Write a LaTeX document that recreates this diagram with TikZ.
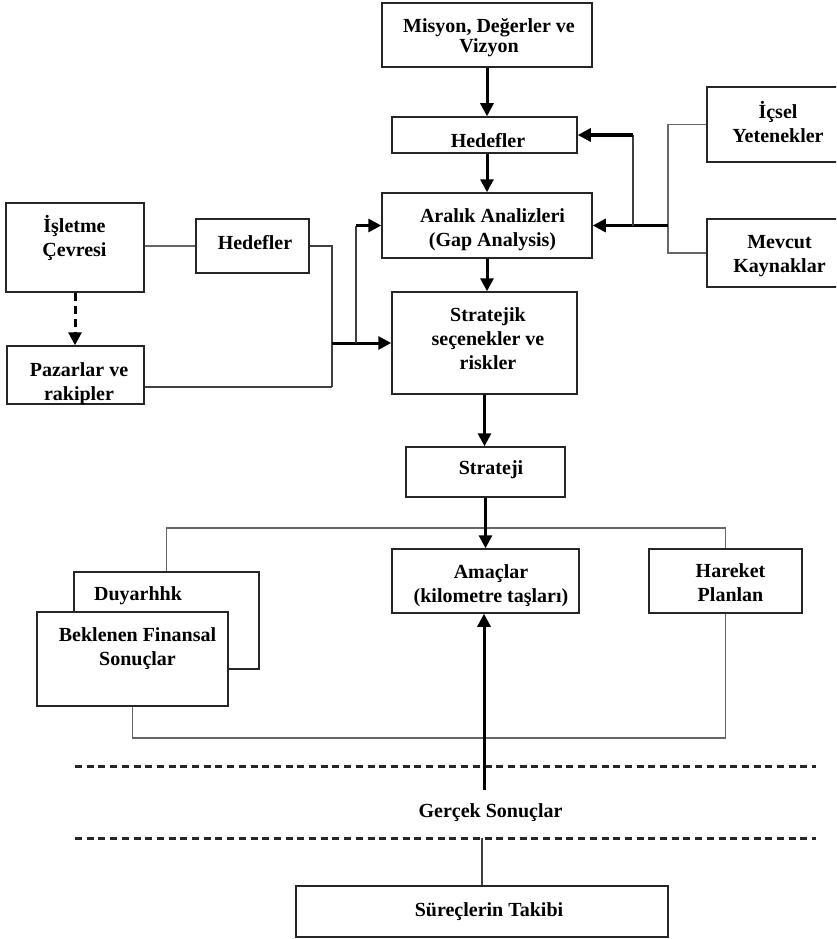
\documentclass[tikz,border=0pt]{standalone}
\usepackage{fontspec}
\setmainfont{Liberation Serif}
\usetikzlibrary{arrows.meta}
\begin{document}
\begin{tikzpicture}[x=1pt,y=-1pt,
  box/.style={draw=black!85, line width=1.5pt, inner sep=0pt, rectangle, fill=white},
  txt/.style={font={\bfseries\fontsize{20}{24}\selectfont\lineskiplimit=-30pt}, align=center, inner sep=0pt},
  txttight/.style={font={\bfseries\fontsize{20}{19.5}\selectfont\lineskiplimit=-30pt}, align=center, inner sep=0pt},
  bigarrow/.style={line width=3pt, draw=black, -{Triangle[length=13pt,width=13pt]}},
  dasharrow/.style={line width=3pt, draw=black, dash pattern=on 8pt off 5pt, -{Triangle[length=13pt,width=13pt]}},
  grayline/.style={line width=1.6pt, draw=black!60},
  thinline/.style={line width=1.6pt, draw=black!75},
  dotline/.style={line width=3pt, draw=black!85, dash pattern=on 7pt off 4.7pt},
]
\clip (0,0) rectangle (836,939);
\fill[white] (0,0) rectangle (836,939);

% boxes
\node[box, minimum width=210pt, minimum height=64pt] (mis) at (487,35) {};
\node[box, minimum width=185pt, minimum height=36pt] (hed) at (484.5,135) {};
\node[box, minimum width=210pt, minimum height=65pt] (ara) at (487,225.5) {};
\node[box, minimum width=185pt, minimum height=102pt] (str) at (484.5,343) {};
\node[box, minimum width=159pt, minimum height=50pt] (sj) at (485.5,472) {};
\node[box, minimum width=133pt, minimum height=75pt] (ics) at (773.5,124.5) {};
\node[box, minimum width=133pt, minimum height=68pt] (mev) at (773.5,253) {};
\node[box, minimum width=138pt, minimum height=89pt] (isl) at (75,247.5) {};
\node[box, minimum width=113pt, minimum height=54pt] (hedL) at (252.5,246) {};
\node[box, minimum width=137pt, minimum height=58pt] (paz) at (75.5,375) {};
\node[box, minimum width=185pt, minimum height=97pt] (duy) at (166.5,620.5) {};
\node[box, minimum width=191pt, minimum height=94pt] (bek) at (132.5,659) {};
\node[box, minimum width=187pt, minimum height=64pt] (ama) at (485.5,581) {};
\node[box, minimum width=153pt, minimum height=64pt] (har) at (725.5,581) {};
\node[box, minimum width=372pt, minimum height=51pt] (sur) at (482,911.5) {};

% texts
\node[txttight] (tmis) at (489,38.5) {\strut Misyon, Değerler ve\\\strut Vizyon};
\node[txt] (thed) at (488,143) {\strut Hedefler};
\node[txt] (tara) at (492.5,230) {\strut Aralık Analizleri\\\strut (Gap Analysis)};
\node[txt] (tstr) at (488,341) {\strut Stratejik\\\strut seçenekler ve\\\strut riskler};
\node[txt] (tsj) at (491,470) {\strut Strateji};
\node[txt] (tics) at (778,125.5) {\strut İçsel\\\strut Yetenekler};
\node[txt] (tmev) at (779.5,255.5) {\strut Mevcut\\\strut Kaynaklar};
\node[txt] (tisl) at (74.5,240) {\strut İşletme\\\strut Çevresi};
\node[txt] (thedL) at (255,245) {\strut Hedefler};
\node[txt] (tpaz) at (79,383.5) {\strut Pazarlar ve\\\strut rakipler};
\node[txt] (tduy) at (138,596) {\strut Duyarhhk};
\node[txt] (tbek) at (137.5,648.5) {\strut Beklenen Finansal\\\strut Sonuçlar};
\node[txt] (tama) at (491,586) {\strut Amaçlar\\\strut (kilometre taşları)};
\node[txt] (thar) at (730.5,585) {\strut Hareket\\\strut Planlan};
\node[txt] (tger) at (490.5,813) {\strut Gerçek Sonuçlar};
\node[txt] (tsur) at (489,912) {\strut Süreçlerin Takibi};

% coordinates
\coordinate (jR) at (668,225.5);
\coordinate (jR2) at (633,225.5);
\coordinate (jR3) at (633,135);
\coordinate (jL) at (332,343);
\coordinate (jL2) at (356,343);
\coordinate (jL3) at (356,225.5);
\coordinate (jP) at (332,387);
\coordinate (gbot) at (484,790);
\coordinate (d1a) at (75,766);
\coordinate (d1b) at (816,766);
\coordinate (d2a) at (75,838);
\coordinate (d2b) at (816,838);
\coordinate (d2m) at (482,838);

% central chain
\draw[bigarrow] (mis.south) -- (mis.south |- hed.north);
\draw[bigarrow] (ara.north |- hed.south) -- (ara.north);
\draw[bigarrow] (ara.south) -- (ara.south |- str.north);
\draw[bigarrow] (str.south) -- (str.south |- sj.north);

% right side
\draw[grayline] (ics.west) -| (jR) |- (mev.west);
\draw[bigarrow] (jR) -- (ara.east);
\draw[thinline] (jR2) -- (jR3);
\draw[bigarrow] (jR3) -- (hed.east);

% left side
\draw[grayline] (hedL.west -| isl.east) -- (hedL.west);
\draw[thinline] (hedL.east) -| (jL);
\draw[thinline] (jL) -- (jP);
\draw[thinline] (jP) -- (jP -| paz.east);
\draw[bigarrow] (jL) -- (str.west);
\draw[thinline] (jL2) -- (jL3);
\draw[bigarrow] (jL3) -- (ara.west);
\draw[dasharrow] (isl.south) -- (isl.south |- paz.north);

% lower part
\draw[grayline] (duy.north) -- (166.5,528) -| (har.north);
\draw[grayline] (bek.south) -- (132.5,738) -| (har.south);
\draw[bigarrow] (sj.south) -- (sj.south |- ama.north);
\draw[dotline] (d1a) -- (d1b);
\draw[dotline] (d2a) -- (d2b);
\draw[bigarrow] (gbot) -- (gbot |- ama.south);
\draw[thinline] (d2m) -- (sur.north);
\end{tikzpicture}
\end{document}
